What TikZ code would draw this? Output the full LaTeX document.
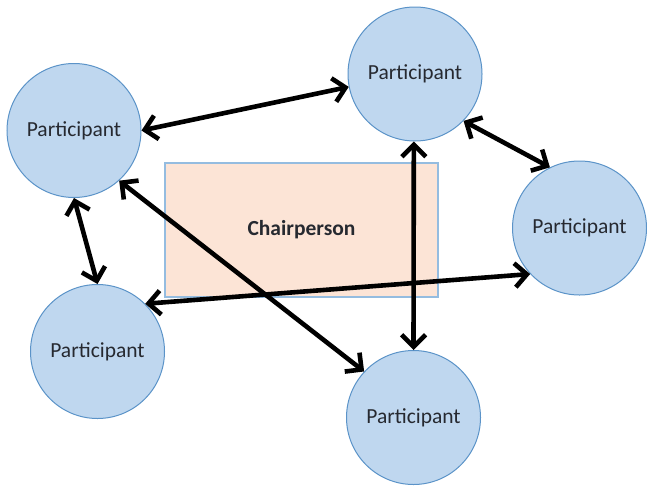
\documentclass[tikz,border=0pt]{standalone}
\usepackage{fontspec}
\setmainfont{Carlito}
\usepackage{xcolor}
\usepackage{tikz}
\usetikzlibrary{arrows.meta}
\definecolor{partfill}{HTML}{BFD7EF}
\definecolor{partline}{HTML}{5B93C8}
\definecolor{chairfill}{HTML}{FCE4D6}
\definecolor{chairline}{HTML}{94BCE0}
\definecolor{inkgray}{HTML}{262930}
\tikzset{
  partnode/.style={
    circle, draw=partline, line width=1pt, fill=partfill,
    minimum size=134pt, inner sep=0pt, text=inkgray,
    font=\fontsize{21.5}{24}\selectfont
  },
  chairnode/.style={
    rectangle, draw=chairline, line width=1.5pt, fill=chairfill,
    minimum width=273pt, minimum height=134pt, text=inkgray,
    font=\fontsize{21.5}{24}\selectfont\bfseries
  },
  linkarrow/.style={
    {Straight Barb[length=12pt,width=24pt]}-{Straight Barb[length=12pt,width=24pt]},
    line width=4.6pt, color=black
  },
}
\begin{document}
\begin{tikzpicture}[x=1pt, y=-1pt]
  \useasboundingbox (0,0) rectangle (647,485);
  \node[chairnode] (chair) at (301.5,230) {Chairperson};
  \node[partnode] (ptl) at (74,130.5) {Participant};
  \node[partnode] (ptc) at (415,74) {Participant};
  \node[partnode] (prt) at (579.5,228) {Participant};
  \node[partnode] (pbl) at (97.5,351.5) {Participant};
  \node[partnode] (pbc) at (413.5,417.5) {Participant};
  % links between participants
  \draw[linkarrow] (ptl.0) -- (ptc.191);
  \draw[linkarrow] (ptc.-44) -- (prt.116);
  \draw[linkarrow] (ptc.-91) -- (pbc.90);
  \draw[linkarrow] (ptl.-90) -- (pbl.90);
  \draw[linkarrow] (ptl.-48) -- (pbc.137);
  \draw[linkarrow] (pbl.45) -- (prt.223);
\end{tikzpicture}
\end{document}
